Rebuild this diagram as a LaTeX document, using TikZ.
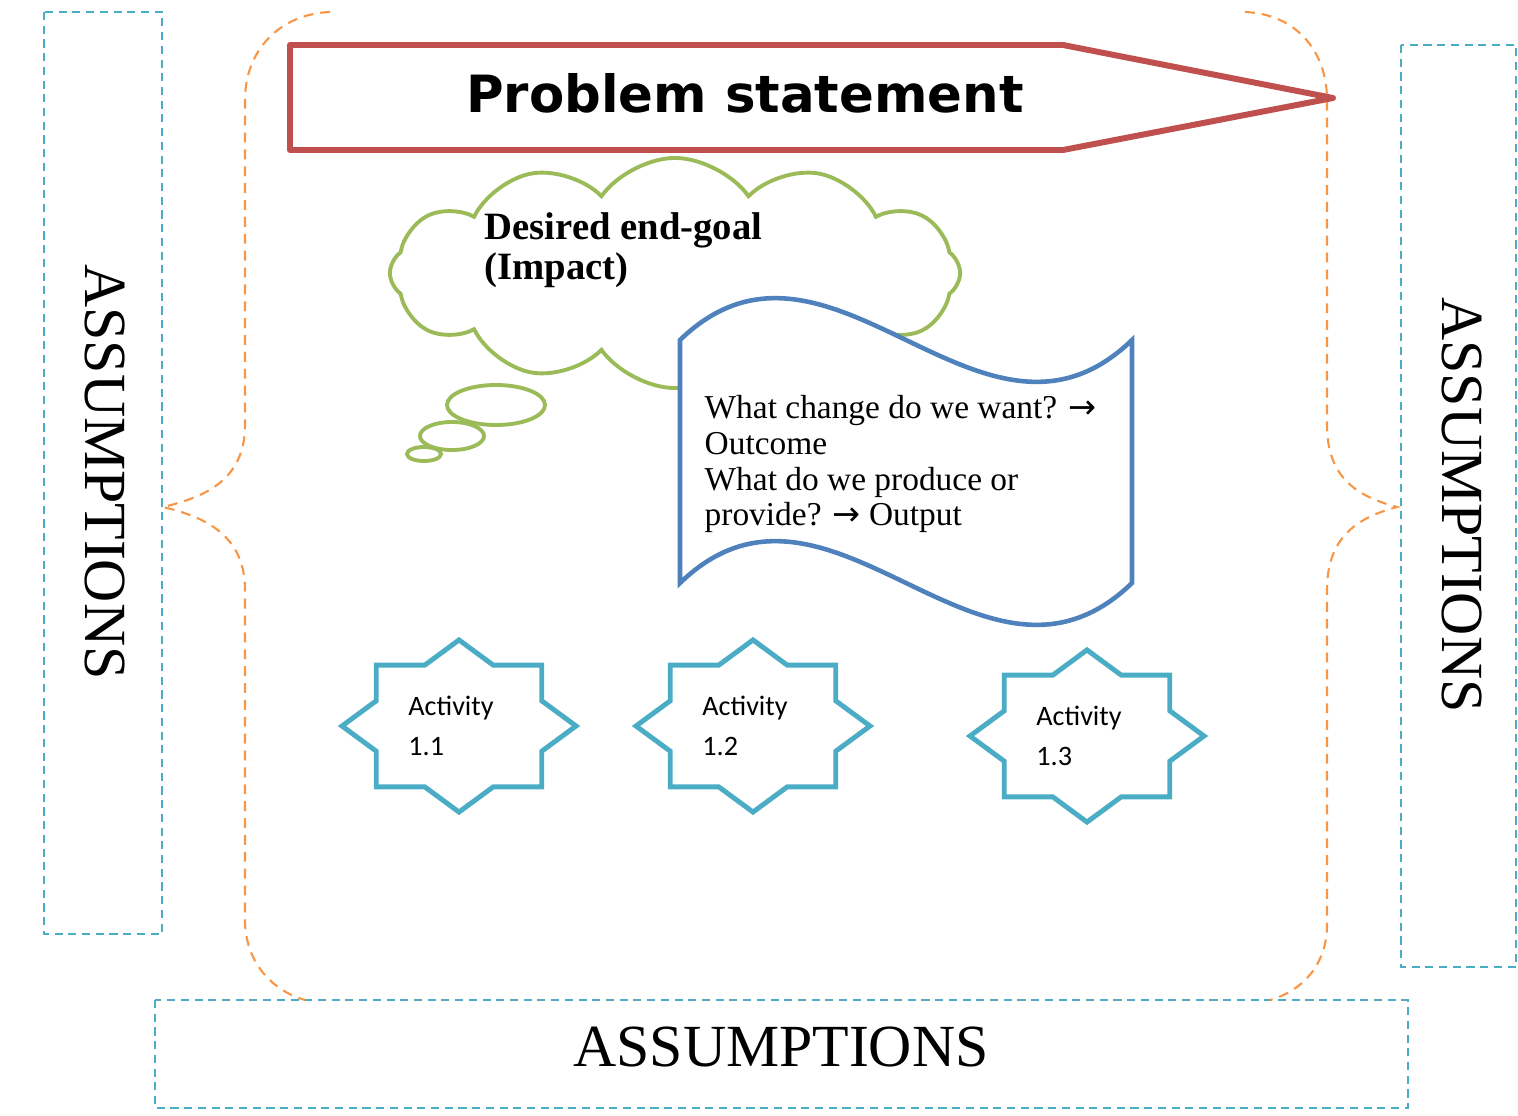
\documentclass[tikz,border=0pt]{standalone}
\usepackage{fontspec}
\setmainfont{Liberation Serif}
\newfontfamily\headfont{DejaVu Sans}
\newfontfamily\actfont{Carlito}
\newfontfamily\arrowfont{DejaVu Sans}
\usetikzlibrary{shapes.symbols,shapes.geometric,positioning}
\definecolor{probred}{HTML}{C0504D}
\definecolor{goalgreen}{HTML}{9BBB59}
\definecolor{waveblue}{HTML}{4F81BD}
\definecolor{actaqua}{HTML}{4BACC6}
\definecolor{braceorange}{HTML}{F79646}
\tikzset{
  assumbox/.style={draw=actaqua, line width=0.5pt, dash pattern=on 2.3pt off 1.6pt},
  assumtext/.style={font=\fontsize{17}{20}\selectfont, inner sep=0pt},
  bracepath/.style={draw=braceorange, line width=0.6pt, dash pattern=on 2.8pt off 2pt},
  probline/.style={draw=probred, line width=1.7pt, line join=round},
  probtext/.style={font=\headfont\bfseries\fontsize{14.6}{17}\selectfont},
  goalline/.style={draw=goalgreen, line width=1.1pt},
  bubble/.style={goalline, ellipse, inner sep=0pt},
  goaltext/.style={font=\bfseries\fontsize{11}{11.4}\selectfont, align=left, inner sep=0pt},
  waveline/.style={draw=waveblue, line width=1.3pt, fill=white},
  wavetext/.style={font=\fontsize{9.5}{10.15}\selectfont, align=left, inner sep=0pt},
  actstar/.style={draw=actaqua, line width=1.4pt, star, star points=8,
    star point ratio=1.307, minimum size=1.72cm, inner sep=0pt, xscale=1.36},
  acttext/.style={font=\actfont\fontsize{8}{11.4}\selectfont, align=left, inner sep=0pt}
}
\begin{document}
\begin{tikzpicture}[x=0.01cm, y=-0.01cm]
  \useasboundingbox (0,0) rectangle (1518,1115);
  % assumption frames
  \draw[assumbox] (44,12) rectangle (162,934);
  \draw[assumbox] (1401,45) rectangle (1516,967);
  \draw[assumbox] (155,1000) rectangle (1408,1108);
  \node[assumtext, rotate=-90] (assumleft) at (105,472) {ASSUMPTIONS};
  \node[assumtext, rotate=-90] (assumright) at (1462,505) {ASSUMPTIONS};
  \node[assumtext] (assumbottom) at (781,1047) {ASSUMPTIONS};
  % braces
  \draw[bracepath] (330,12) .. controls (280,14) and (245,50) .. (245,100) -- (245,425)
    .. controls (245,480) and (205,497) .. (163,507) .. controls (205,517) and (245,535) .. (245,590)
    -- (245,920) .. controls (245,960) and (270,990) .. (305,1000);
  \draw[bracepath] (1245,12) .. controls (1295,14) and (1327,50) .. (1327,100) -- (1327,425)
    .. controls (1327,480) and (1360,497) .. (1397,507) .. controls (1360,517) and (1327,535) .. (1327,590)
    -- (1327,925) .. controls (1327,962) and (1305,990) .. (1270,1000);
  % problem statement
  \draw[probline] (290,45) -- (1063,45) -- (1333,98) -- (1063,150) -- (290,150) -- cycle;
  \node[probtext] (problem) at (745,93) {Problem statement};
  % impact cloud
  \node[goalline, cloud, cloud puffs=12, cloud puff arc=110, aspect=2.5,
    minimum width=5.7cm, minimum height=2.3cm] (goal) at (675,273) {};
  \node[bubble, minimum width=0.98cm, minimum height=0.40cm] (bubble1) at (496,405) {};
  \node[bubble, minimum width=0.64cm, minimum height=0.28cm] (bubble2) at (452,436) {};
  \node[bubble, minimum width=0.34cm, minimum height=0.14cm] (bubble3) at (424,454) {};
  \node[goaltext, anchor=north west] (goaltxt) at (484,212) {Desired end-goal\\(Impact)};
  % outcome / output wave
  \draw[waveline] (680,340) .. controls (830,195) and (982,485) .. (1132,340) -- (1132,583)
    .. controls (982,728) and (830,438) .. (680,583) -- cycle;
  \node[wavetext, anchor=north west] (question) at (704,395)
    {What change do we want? {\arrowfont →}\\Outcome\\What do we produce or\\provide? {\arrowfont →} Output};
  % activities
  \node[actstar] (act1) at (459,726) {};
  \node[actstar] (act2) at (753,726) {};
  \node[actstar] (act3) at (1087,736) {};
  \node[acttext] (act1txt) at ([xshift=-0.08cm]act1.center) {Activity\\1.1};
  \node[acttext] (act2txt) at ([xshift=-0.08cm]act2.center) {Activity\\1.2};
  \node[acttext] (act3txt) at ([xshift=-0.08cm]act3.center) {Activity\\1.3};
\end{tikzpicture}
\end{document}
